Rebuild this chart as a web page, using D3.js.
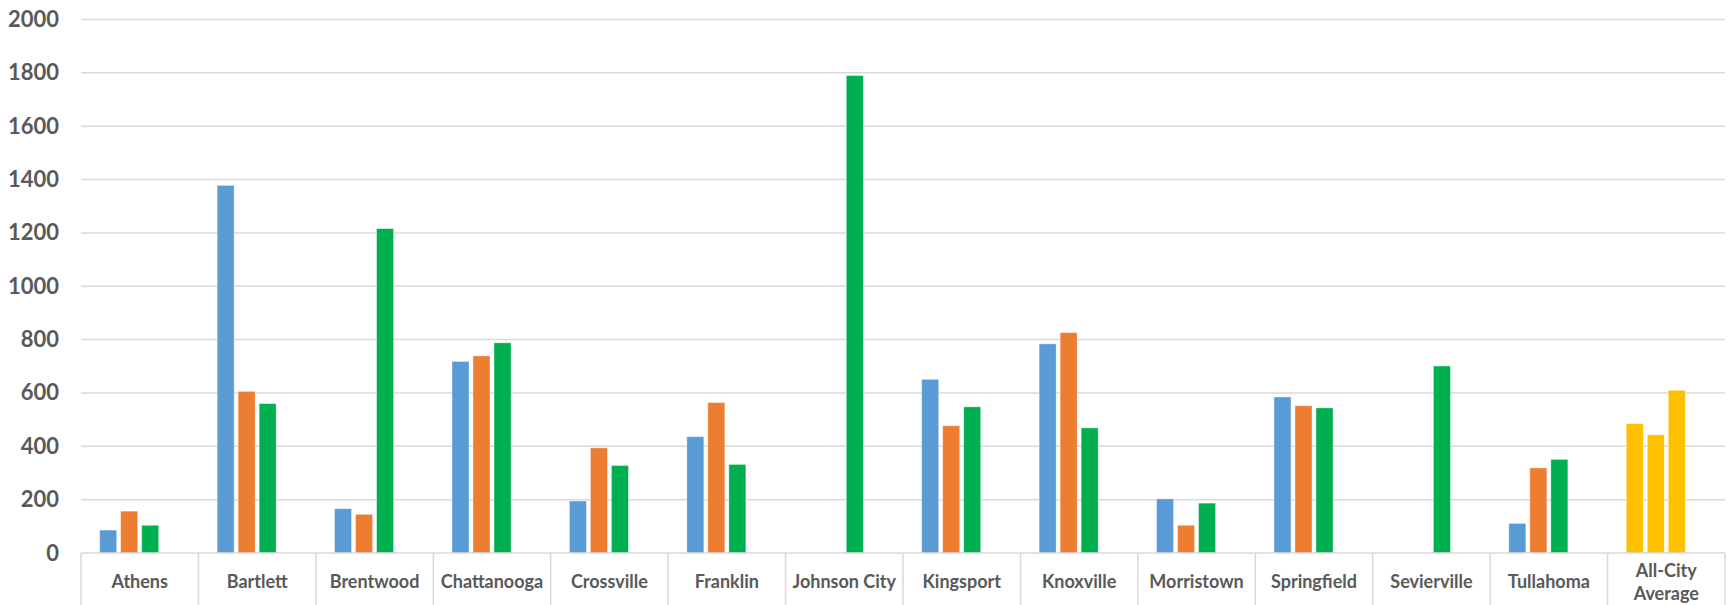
<!DOCTYPE html>
<html><head><meta charset="utf-8">
<script src="https://cdn.jsdelivr.net/npm/d3@7"></script>
<style>body{margin:0;background:#fff}svg{display:block}</style>
</head><body><svg id="c" width="1735" height="605"></svg>
<script>
const categories = ["Athens","Bartlett","Brentwood","Chattanooga","Crossville","Franklin","Johnson City","Kingsport","Knoxville","Morristown","Springfield","Sevierville","Tullahoma","All-City Average"];
const series1 = [86,1378,166,718,195,436,null,651,784,203,585,null,111,485];
const series2 = [157,606,145,739,394,564,null,477,826,104,552,null,319,443];
const series3 = [104,560,1216,788,328,332,1790,548,469,187,544,701,351,610];
const seriesNames = ["s1","s2","s3","s4"];
const seriesColors = ["#5B9BD5","#ED7D31","#00B050"];
const highlightCategory = "All-City Average";
const highlightColor = "#FFC000";
const yTicks = [0,200,400,600,800,1000,1200,1400,1600,1800,2000];

const svg = d3.select("#c");
const L = 81, R = 1725, T = 19.5, B = 553;
const x = d3.scaleBand().domain(categories).range([L, R]).padding(0);
const xi = d3.scaleBand().domain(seriesNames).range([0, x.bandwidth()]).paddingInner(0.19).paddingOuter(0.89);
const y = d3.scaleLinear().domain([0, 2000]).range([B, T]);

// gridlines
svg.append("g").selectAll("line").data(yTicks.slice(1)).join("line")
  .attr("x1", L).attr("x2", R).attr("y1", d => y(d)).attr("y2", d => y(d))
  .attr("stroke", "#d9d9d9").attr("stroke-width", 1.5);

// y labels
const yAxis = d3.axisLeft(y).tickValues(yTicks).tickSize(0).tickPadding(22).tickFormat(d3.format("d"));
const ya = svg.append("g").attr("transform", `translate(${L},0)`).call(yAxis);
ya.select(".domain").remove();
ya.selectAll("text").attr("font-family","Lato, 'Open Sans', sans-serif").attr("font-weight","bold")
  .attr("font-size", 22).attr("fill","#595959");

// bars
const allSeries = [series1, series2, series3];
const g = svg.append("g");
allSeries.forEach((vals, si) => {
  g.selectAll(null).data(categories.map((c, i) => ({c, v: vals[i]})).filter(d => d.v != null)).join("rect")
    .attr("x", d => x(d.c) + xi(seriesNames[si]))
    .attr("width", xi.bandwidth())
    .attr("y", d => y(d.v))
    .attr("height", d => y(0) - y(d.v))
    .attr("fill", d => d.c === highlightCategory ? highlightColor : seriesColors[si])
    .attr("stroke", "#ffffff").attr("stroke-opacity", 0.5).attr("stroke-width", 0.75);
});

// category axis box
const ax = svg.append("g");
ax.append("line").attr("x1", L).attr("x2", R).attr("y1", B).attr("y2", B).attr("stroke", "#d9d9d9").attr("stroke-width", 1.5);
const bounds = categories.map(c => x(c)).concat([R]);
ax.selectAll("line.sep").data(bounds).join("line").attr("class","sep")
  .attr("x1", d => d).attr("x2", d => d).attr("y1", B).attr("y2", 605)
  .attr("stroke", "#d9d9d9").attr("stroke-width", 1.5);

const labels = ax.selectAll("text").data(categories).join("text")
  .attr("x", d => x(d) + x.bandwidth()/2)
  .attr("text-anchor","middle")
  .attr("font-family","Lato, 'Open Sans', sans-serif").attr("font-weight","bold")
  .attr("font-size", 18).attr("fill","#595959");
labels.each(function(d){
  const t = d3.select(this);
  const cx = x(d) + x.bandwidth()/2;
  if (d === highlightCategory) {
    t.append("tspan").attr("x", cx).attr("y", 577).text("All-City");
    t.append("tspan").attr("x", cx).attr("y", 600).text("Average");
  } else {
    t.attr("y", 588).text(d);
  }
});
</script>
</body></html>
